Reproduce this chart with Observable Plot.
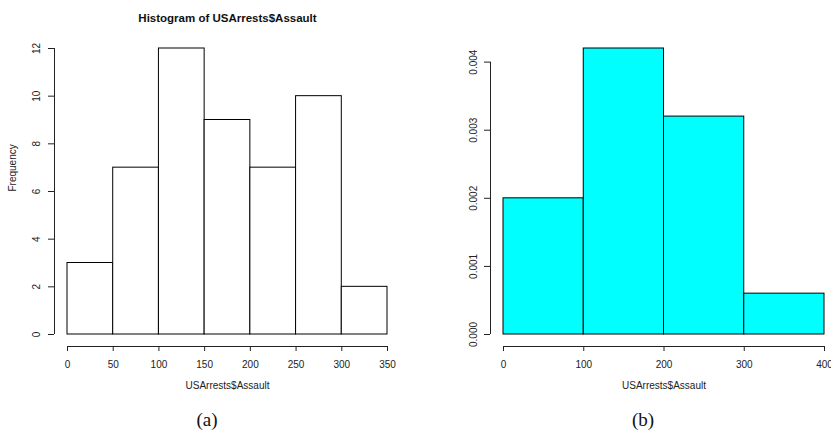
<!DOCTYPE html>
<html>
<head>
<meta charset="utf-8">
<script src="https://cdn.jsdelivr.net/npm/d3@7"></script>
<script src="https://cdn.jsdelivr.net/npm/@observablehq/plot@0.6"></script>
<style>
  html, body { margin: 0; padding: 0; background: white; overflow: hidden; }
  #wrap { position: relative; width: 831px; height: 438px; }
  .panel { position: absolute; top: 0; }
  .cap { position: absolute; font-family: "Liberation Serif", "DejaVu Serif", serif; font-size: 19px; color: #111; transform: translate(-50%, -50%); white-space: nowrap; }
</style>
</head>
<body>
<div id="wrap"></div>
<script>
// ---- data ----
const titleA = "Histogram of USArrests$Assault";
const xLabel = "USArrests$Assault";
const yLabelA = "Frequency";

const breaksA = [0, 50, 100, 150, 200, 250, 300, 350];
const countsA = [3, 7, 12, 9, 7, 10, 2];
const xTicksA = [0, 50, 100, 150, 200, 250, 300, 350];
const yTicksA = [0, 2, 4, 6, 8, 10, 12];

const breaksB = [0, 100, 200, 300, 400];
const densityB = [0.002, 0.0042, 0.0032, 0.0006];
const xTicksB = [0, 100, 200, 300, 400];
const yTicksB = [0, 0.001, 0.002, 0.003, 0.004];

const captions = ["(a)", "(b)"];

// ---- build ----
const font = "'Liberation Sans', Arial, Helvetica, sans-serif";
const axisColor = "#222";

const binsA = countsA.map((c, i) => ({x1: breaksA[i], x2: breaksA[i + 1], y: c}));
const binsB = densityB.map((c, i) => ({x1: breaksB[i], x2: breaksB[i + 1], y: c}));

const plotA = Plot.plot({
  width: 415, height: 438,
  marginLeft: 67, marginRight: 28, marginTop: 48, marginBottom: 104,
  style: {fontFamily: font, fontSize: "10px", background: "white", overflow: "visible", color: axisColor},
  x: {domain: [0, 350]},
  y: {domain: [0, 12]},
  marks: [
    Plot.rectY(binsA, {x1: "x1", x2: "x2", y: "y", fill: "white", stroke: "black", strokeWidth: 1}),
    Plot.ruleX([0], {y1: () => 0, y2: () => d3.max(yTicksA), dx: -13, stroke: axisColor}),
    Plot.axisY({ticks: yTicksA, tickSize: 6, dx: -13, tickRotate: -90, tickPadding: 9, label: null, stroke: axisColor, tickFormat: d => String(d)}),
    Plot.ruleY([0], {x1: () => d3.min(xTicksA), x2: () => d3.max(xTicksA), dy: 12, stroke: axisColor}),
    Plot.axisX({ticks: xTicksA, tickSize: 5, dy: 12, tickPadding: 9, label: null, stroke: axisColor, tickFormat: d => String(d)}),
    Plot.text([xLabel], {frameAnchor: "bottom", dy: 54, text: d => d, fill: axisColor}),
    Plot.text([yLabelA], {frameAnchor: "left", dx: -55, rotate: -90, text: d => d, fill: axisColor}),
    Plot.text([titleA], {frameAnchor: "top", dy: -35, text: d => d, fontWeight: "bold", fontSize: 11.5, fill: "#111"})
  ]
});

const plotB = Plot.plot({
  width: 416, height: 438,
  marginLeft: 88, marginRight: 7, marginTop: 48, marginBottom: 104,
  style: {fontFamily: font, fontSize: "10px", background: "white", overflow: "visible", color: axisColor},
  x: {domain: [0, 400]},
  y: {domain: [0, 0.0042]},
  marks: [
    Plot.rectY(binsB, {x1: "x1", x2: "x2", y: "y", fill: "#00FFFF", stroke: "black", strokeWidth: 1}),
    Plot.ruleX([0], {y1: () => 0, y2: () => d3.max(yTicksB), dx: -13, stroke: axisColor}),
    Plot.axisY({ticks: yTicksB, tickSize: 6, dx: -13, tickRotate: -90, tickPadding: 8, label: null, stroke: axisColor, tickFormat: d3.format(".3f")}),
    Plot.ruleY([0], {x1: () => d3.min(xTicksB), x2: () => d3.max(xTicksB), dy: 12, stroke: axisColor}),
    Plot.axisX({ticks: xTicksB, tickSize: 5, dy: 12, tickPadding: 9, label: null, stroke: axisColor, tickFormat: d => String(d)}),
    Plot.text([xLabel], {frameAnchor: "bottom", dy: 54, text: d => d, fill: axisColor})
  ]
});

const wrap = document.getElementById("wrap");
plotA.classList.add("panel"); plotA.style.left = "0px";
plotB.classList.add("panel"); plotB.style.left = "415px";
wrap.appendChild(plotA);
wrap.appendChild(plotB);

const capPos = [[207, 420], [643, 420]];
captions.forEach((c, i) => {
  const d = document.createElement("div");
  d.className = "cap";
  d.textContent = c;
  d.style.left = capPos[i][0] + "px";
  d.style.top = capPos[i][1] + "px";
  wrap.appendChild(d);
});
</script>
</body>
</html>
